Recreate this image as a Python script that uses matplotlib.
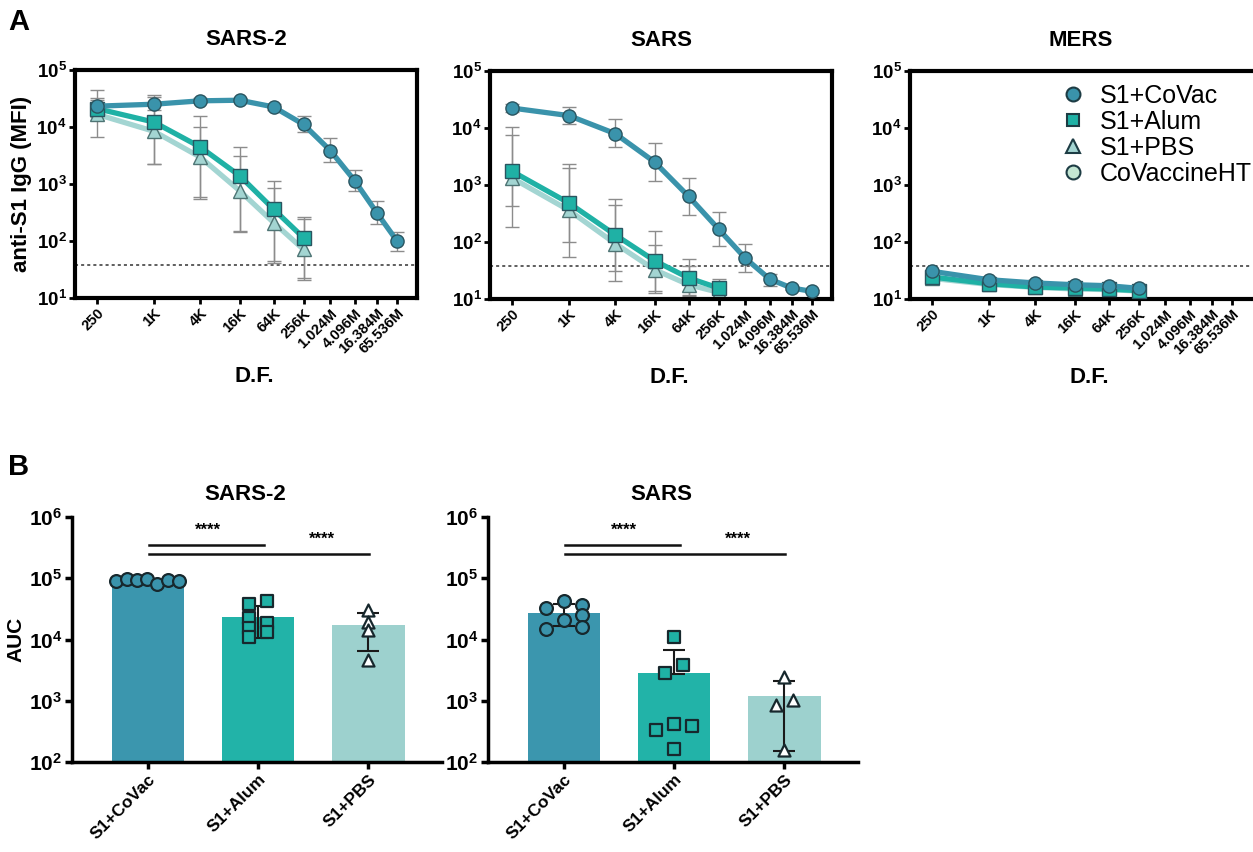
import numpy as np
import matplotlib
matplotlib.use('Agg')
import matplotlib.pyplot as plt
from matplotlib.lines import Line2D
from matplotlib.ticker import FixedLocator, NullLocator

plt.rcParams['font.family'] = ['Liberation Sans', 'DejaVu Sans']
plt.rcParams['mathtext.fontset'] = 'custom'
plt.rcParams['mathtext.rm'] = 'Liberation Sans'
plt.rcParams['mathtext.bf'] = 'Liberation Sans:bold'

# ---------------- data: panel A (dilution curves) ----------------
dilution = [250, 1000, 4000, 16000, 64000, 256000, 1024000, 4096000, 16384000, 65536000]
dilution_labels = ['250', '1K', '4K', '16K', '64K', '256K', '1.024M', '4.096M', '16.384M', '65.536M']
series_names = ['S1+CoVac', 'S1+Alum', 'S1+PBS', 'CoVaccineHT']
lod = 38

# SARS-2
sars2_covac = [23200, 25100, 28800, 29500, 22500, 11100, 3870, 1150, 316, 100]
sars2_covac_lo = [17000, 20000, 26000, 27000, 20000, 8200, 2400, 740, 202, 68]
sars2_covac_hi = [32000, 36000, 32000, 32000, 25000, 15400, 6400, 1770, 508, 144]
sars2_alum = [21000, 12200, 4440, 1400, 362, 114]
sars2_alum_lo = [15000, 2200, 600, 150, 45, 22]
sars2_alum_hi = [30000, 34000, 15400, 4440, 1150, 265]
sars2_pbs = [16700, 8400, 2950, 763, 211, 71]
sars2_pbs_lo = [6700, 2200, 543, 144, 41.5, 21]
sars2_pbs_hi = [44000, 28000, 10000, 3160, 850, 240]

# SARS
sars_covac = [22400, 16500, 7950, 2530, 633, 169, 52, 22.4, 15.6, 13.6]
sars_covac_lo = [19000, 11900, 4570, 1160, 301, 86, 29.4, 16.7, 14.5, 13.0]
sars_covac_hi = [26000, 23300, 14400, 5460, 1330, 336, 93.5, 28, 16.5, 14.2]
sars_alum = [1740, 483, 133, 47, 23.4, 15.6]
sars_alum_lo = [181, 54, 20.4, 12.8, 11.9, 12.5]
sars_alum_hi = [10300, 2330, 567, 154, 50, 22.4]
sars_pbs = [1327, 360, 93.5, 32.7, 17.8, 13.1]
sars_pbs_lo = [423, 99, 30.5, 13.6, 11.5, 12.0]
sars_pbs_hi = [7430, 2000, 452, 90, 37.5, 15.0]

# MERS
mers_covac = [30.6, 21.8, 19.1, 17.8, 17.1, 15.4]
mers_alum = [24.3, 18.6, 16.2, 15.6, 15.0, 14.0]
mers_pbs = [23.0, 18.0, 16.0, 15.0, 14.6, 13.8]

# ---------------- data: panel B (AUC per mouse) ----------------
groups = ['S1+CoVac', 'S1+Alum', 'S1+PBS']
auc_sars2_covac = [90000, 99000, 93000, 96000, 80000, 93000, 90000]
auc_sars2_alum = [38000, 42400, 22400, 15400, 11000, 18600, 13200]
auc_sars2_pbs = [29900, 19300, 14100, 4570]
auc_sars_covac = [33100, 42500, 36100, 25400, 20600, 15000, 16000]
auc_sars_alum = [11000, 3790, 2870, 412, 329, 382, 165]
auc_sars_pbs = [2440, 842, 1016, 155]
sig_label = '****'

# ---------------- styles / layout ----------------
C_COVAC = '#3a93ab'
C_ALUM = '#1fb1a5'
C_PBS = '#a3d5d2'
C_HT = '#c3e6d3'
EDGE = '#2a5560'
W, H = 1253, 852

# jitter offsets of the dots inside each bar (layout only)
OFF_SARS2 = [[-0.29, -0.195, -0.1, -0.01, 0.08, 0.18, 0.28],
             [-0.08, 0.08, -0.08, -0.08, -0.08, 0.08, 0.08],
             [0, 0, 0, 0]]
OFF_SARS = [[-0.16, 0, 0.16, 0.16, 0, -0.16, 0.16],
            [0, 0.08, -0.08, 0, -0.165, 0.16, 0],
            [0, -0.076, 0.08, 0]]


def pos(l, t, w, h):
    return [l / W, 1 - (t + h) / H, w / W, h / H]


def fwd(x):
    x = np.asarray(x, dtype=float)
    with np.errstate(all='ignore'):
        return np.log(np.log10(np.clip(x, 1.001, None)))


def inv(t):
    return 10 ** np.exp(np.asarray(t, dtype=float))


fig = plt.figure(figsize=(W / 100, H / 100), dpi=100)

decade_lbl = lambda e: r'$\mathbf{10^{%d}}$' % e


def style_A(ax, title):
    ax.set_xscale('function', functions=(fwd, inv))
    ax.set_yscale('log')
    ax.set_xlim(158, 2.86e8)
    ax.set_ylim(10, 1e5)
    ax.xaxis.set_major_locator(FixedLocator(dilution))
    ax.xaxis.set_minor_locator(NullLocator())
    ax.set_xticklabels(dilution_labels, rotation=45, ha='right',
                       rotation_mode='anchor', fontsize=10.5, fontweight='bold')
    ax.yaxis.set_major_locator(FixedLocator([10, 100, 1e3, 1e4, 1e5]))
    ax.yaxis.set_minor_locator(NullLocator())
    ax.set_yticklabels([decade_lbl(e) for e in range(1, 6)], fontsize=13.5)
    for s in ax.spines.values():
        s.set_linewidth(3)
    ax.tick_params(axis='both', direction='out', length=4, width=2, pad=2)
    ax.axhline(lod, color='#333333', ls=(0, (2, 2)), lw=1.1, zorder=0.5)
    ax.set_title(title, fontsize=16, fontweight='bold', pad=18)
    ax.set_xlabel('D.F.', fontsize=16, fontweight='bold')
    ax.xaxis.set_label_coords(0.525, -0.30)


def curve(ax, y, color, marker, lo=None, hi=None, z=2, mec=EDGE):
    x = dilution[:len(y)]
    y = np.asarray(y, float)
    if lo is not None:
        ax.errorbar(x, y, yerr=[y - np.asarray(lo), np.asarray(hi) - y], fmt='none',
                    ecolor='#8c8c8c', elinewidth=1, capsize=5, capthick=1, zorder=1)
    ax.plot(x, y, '-', color=color, lw=3.8, marker=marker, ms=9.5, mfc=color,
            mec=mec, mew=1, zorder=z)


# Panel A
axA1 = fig.add_axes(pos(75, 70, 342, 228))
style_A(axA1, 'SARS-2')
curve(axA1, sars2_pbs, C_PBS, '^', sars2_pbs_lo, sars2_pbs_hi, z=2, mec='#4e7474')
curve(axA1, sars2_alum, C_ALUM, 's', sars2_alum_lo, sars2_alum_hi, z=3)
curve(axA1, sars2_covac, C_COVAC, 'o', sars2_covac_lo, sars2_covac_hi, z=4)
axA1.set_ylabel('anti-S1 IgG (MFI)', fontsize=16, fontweight='bold')
axA1.yaxis.set_label_coords(-0.125, 0.5)

axA2 = fig.add_axes(pos(490, 71, 342, 228))
style_A(axA2, 'SARS')
curve(axA2, sars_pbs, C_PBS, '^', sars_pbs_lo, sars_pbs_hi, z=2, mec='#4e7474')
curve(axA2, sars_alum, C_ALUM, 's', sars_alum_lo, sars_alum_hi, z=3)
curve(axA2, sars_covac, C_COVAC, 'o', sars_covac_lo, sars_covac_hi, z=4)

axA3 = fig.add_axes(pos(910, 71, 342, 228))
style_A(axA3, 'MERS')
axA3.spines['right'].set_visible(False)
curve(axA3, mers_pbs, C_PBS, '^', z=2, mec='#4e7474')
curve(axA3, mers_alum, C_ALUM, 's', z=3)
curve(axA3, mers_covac, C_COVAC, 'o', z=4)

handles = [Line2D([], [], ls='none', marker='o', ms=10, mfc=C_COVAC, mec='#1d3c44', mew=1.5),
           Line2D([], [], ls='none', marker='s', ms=9, mfc=C_ALUM, mec='#1d3c44', mew=1.5),
           Line2D([], [], ls='none', marker='^', ms=10, mfc=C_PBS, mec='#1d3c44', mew=1.5),
           Line2D([], [], ls='none', marker='o', ms=10, mfc=C_HT, mec='#1d3c44', mew=1.5)]
axA3.legend(handles, series_names, loc='upper left',
            bbox_to_anchor=((1060 - 910) / 342, 1 - (84 - 71) / 228),
            frameon=False, fontsize=18, handlelength=1.0, handletextpad=0.6,
            labelspacing=0.08, borderpad=0, borderaxespad=0)

fig.text(8 / W, 1 - 8 / H, 'A', fontsize=21, fontweight='bold', va='top', ha='left')
fig.text(8 / W, 1 - 453 / H, 'B', fontsize=21, fontweight='bold', va='top', ha='left')

# Panel B
BAR_COLORS = ['#3b96ae', '#22b3a8', '#9dd1ce']
DOT_FACE = [C_COVAC, C_ALUM, 'white']
DOT_MARK = ['o', 's', '^']


def panel_B(ax, title, data, offsets):
    ax.set_yscale('log')
    ax.set_ylim(100, 1e6)
    ax.set_xlim(-0.69, 2.67)
    for i, vals in enumerate(data):
        v = np.asarray(vals, float)
        m = v.mean()
        sd = v.std(ddof=1)
        ax.bar(i, m, width=0.66, bottom=100, color=BAR_COLORS[i], zorder=1)
        lo = m - sd
        low_err = sd if lo > 0 else 0
        ax.errorbar([i], [m], yerr=[[low_err], [sd]], fmt='none', ecolor='#1a1a1a',
                    elinewidth=1.5, capsize=8, capthick=1.5, zorder=2)
        xs = i + np.asarray(offsets[i])
        ax.scatter(xs, v, s=85 if DOT_MARK[i] != '^' else 75, marker=DOT_MARK[i],
                   facecolor=DOT_FACE[i], edgecolor='#17282d', linewidth=1.6, zorder=3)
    ax.set_xticks(range(len(groups)))
    ax.set_xticklabels(groups, rotation=45, ha='right', rotation_mode='anchor',
                       fontsize=12.5, fontweight='bold')
    ax.yaxis.set_major_locator(FixedLocator([1e2, 1e3, 1e4, 1e5, 1e6]))
    ax.yaxis.set_minor_locator(NullLocator())
    ax.set_yticklabels([decade_lbl(e) for e in range(2, 7)], fontsize=15)
    for s in ['top', 'right']:
        ax.spines[s].set_visible(False)
    for s in ['left', 'bottom']:
        ax.spines[s].set_linewidth(2.5)
    ax.tick_params(axis='both', direction='out', length=5, width=2.5, pad=2)
    ax.set_title(title, fontsize=16, fontweight='bold', x=0.468, pad=12)
    # significance annotations
    ax.plot([0.01, 1.05], [344000, 344000], color='#111111', lw=1.8, zorder=2)
    ax.plot([0.01, 2.01], [246000, 246000], color='#111111', lw=1.8, zorder=2)
    ax.text(0.54, 600000, sig_label, ha='center', va='center', fontsize=12, fontweight='bold')
    ax.text(1.58, 430000, sig_label, ha='center', va='center', fontsize=12, fontweight='bold')


axB1 = fig.add_axes(pos(72, 517, 370, 245))
panel_B(axB1, 'SARS-2', [auc_sars2_covac, auc_sars2_alum, auc_sars2_pbs], OFF_SARS2)
axB1.set_ylabel('AUC', fontsize=15, fontweight='bold')
axB1.yaxis.set_label_coords(-0.125, 0.5)

axB2 = fig.add_axes(pos(488, 517, 370, 245))
panel_B(axB2, 'SARS', [auc_sars_covac, auc_sars_alum, auc_sars_pbs], OFF_SARS)

fig.savefig('out.png', dpi=100)
